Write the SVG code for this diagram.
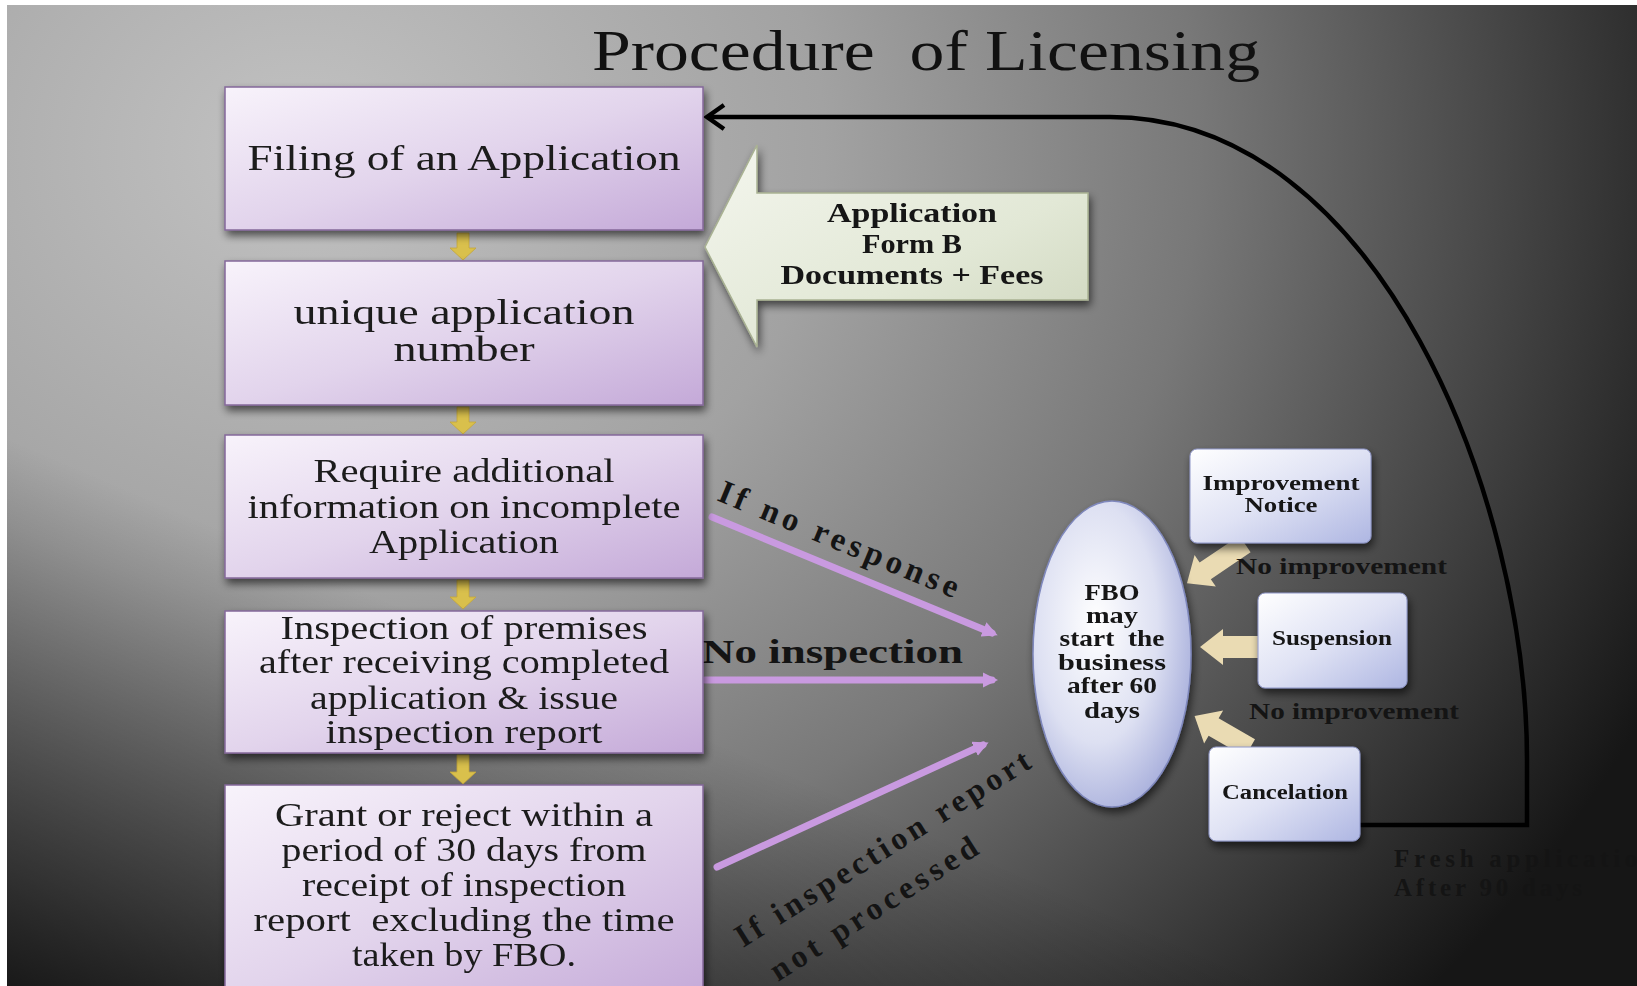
<svg xmlns="http://www.w3.org/2000/svg" width="1637" height="986" viewBox="0 0 1637 986">
<defs>
<radialGradient id="bg" gradientUnits="userSpaceOnUse" cx="300" cy="150" r="1500" gradientTransform="translate(300 150) scale(1 0.85) translate(-300 -150)">
<stop offset="0" stop-color="#c2c2c2"/>
<stop offset="0.35" stop-color="#a2a2a2"/>
<stop offset="0.6" stop-color="#787878"/>
<stop offset="0.75" stop-color="#535353"/>
<stop offset="0.9" stop-color="#2e2e2e"/>
<stop offset="1" stop-color="#161616"/>
</radialGradient>
<linearGradient id="bl" gradientUnits="userSpaceOnUse" x1="0" y1="986" x2="200" y2="520">
<stop offset="0" stop-color="#000" stop-opacity="0.75"/>
<stop offset="1" stop-color="#000" stop-opacity="0"/>
</linearGradient>
<linearGradient id="lav" x1="0" y1="0" x2="1" y2="1">
<stop offset="0" stop-color="#f8f3fb"/>
<stop offset="0.5" stop-color="#e2d4ec"/>
<stop offset="1" stop-color="#c4a9d8"/>
</linearGradient>
<linearGradient id="blu" x1="0" y1="0" x2="1" y2="1">
<stop offset="0" stop-color="#ffffff"/>
<stop offset="0.5" stop-color="#dfe2f4"/>
<stop offset="1" stop-color="#aeb6e2"/>
</linearGradient>
<radialGradient id="ell" cx="0.4" cy="0.4" r="0.65">
<stop offset="0" stop-color="#ffffff"/>
<stop offset="0.6" stop-color="#dde0f2"/>
<stop offset="1" stop-color="#a9b0dc"/>
</radialGradient>
<linearGradient id="grn" x1="0" y1="0" x2="1" y2="1">
<stop offset="0" stop-color="#f4f6ee"/>
<stop offset="0.6" stop-color="#e2e8d6"/>
<stop offset="1" stop-color="#cdd5bc"/>
</linearGradient>
<filter id="sh" x="-15%" y="-15%" width="135%" height="145%">
<feGaussianBlur in="SourceAlpha" stdDeviation="4"/>
<feOffset dx="2" dy="5"/>
<feComponentTransfer><feFuncA type="linear" slope="0.6"/></feComponentTransfer>
<feMerge><feMergeNode/><feMergeNode in="SourceGraphic"/></feMerge>
</filter>
<marker id="pa" viewBox="0 0 10 10" refX="6" refY="5" markerWidth="2.2" markerHeight="2.2" orient="auto" markerUnits="strokeWidth">
<path d="M0,0 L10,5 L0,10 Z" fill="#c99ae0"/>
</marker>
<style>
.bx{fill:url(#lav);stroke:#84689a;stroke-width:1.5}
.sb{fill:url(#blu);stroke:#8e96c8;stroke-width:1}
.t{font-family:"Liberation Serif","Times New Roman",serif;fill:#1a1a1a;text-anchor:middle}
.tb{font-family:"Liberation Serif","Times New Roman",serif;fill:#141414;font-weight:bold}
.gold{fill:#d9c04c;stroke:#c4a63a;stroke-width:0.8}
.cr{fill:#eadbb3}
.pl{stroke:#c99ae0;stroke-width:7;stroke-linecap:round;fill:none}
</style>
</defs>
<rect width="1637" height="986" fill="#ffffff"/>
<rect x="7" y="5" width="1630" height="981" fill="url(#bg)"/>
<rect x="7" y="5" width="1630" height="981" fill="url(#bl)"/>

<text id="title" x="592" y="70" font-family="Liberation Serif, Times New Roman, serif" font-size="56" fill="#111" xml:space="preserve" textLength="668" lengthAdjust="spacingAndGlyphs">Procedure  of Licensing</text>

<g id="connectors">
<path d="M1360,825 L1527,825 L1527,760 C1527,500 1380,117 1110,117 L708,117" fill="none" stroke="#000" stroke-width="4.5"/>
<path d="M724,105 L707,117 L724,129" fill="none" stroke="#000" stroke-width="4.5"/>
<line x1="712" y1="517" x2="992" y2="633" class="pl" marker-end="url(#pa)"/>
<line x1="705" y1="680" x2="992" y2="680" class="pl" marker-end="url(#pa)"/>
<line x1="717" y1="867" x2="983" y2="745" class="pl" marker-end="url(#pa)"/>
<path class="gold" d="M457,233 h12 v15 h7 l-13,12 l-13,-12 h7 z"/>
<path class="gold" d="M457,407 h12 v15 h7 l-13,12 l-13,-12 h7 z"/>
<path class="gold" d="M457,580 h12 v17 h7 l-13,12 l-13,-12 h7 z"/>
<path class="gold" d="M457,755 h12 v17 h7 l-13,12 l-13,-12 h7 z"/>
<g transform="translate(1245,544) rotate(146)"><path class="cr" d="M0,-10 L48,-10 L48,-19 L70,0 L48,19 L48,10 L0,10 Z"/></g>
<path class="cr" d="M1258,636 L1223,636 L1223,629 L1200,647 L1223,665 L1223,658 L1258,658 Z"/>
<g transform="translate(1250,748) rotate(210)"><path class="cr" d="M0,-10 L42,-10 L42,-19 L64,0 L42,19 L42,10 L0,10 Z"/></g>
</g>

<g id="lbl-noresp"><text class="tb" font-size="33" x="716" y="500" textLength="257" transform="rotate(22.5 716 500)">If no response</text></g>
<g id="lbl-noinsp"><text class="tb" font-size="33" x="702" y="663" textLength="261" lengthAdjust="spacingAndGlyphs">No inspection</text></g>
<g id="lbl-notproc">
<text class="tb" font-size="32" x="743" y="948" textLength="342" transform="rotate(-32 743 948)">If inspection report</text>
<text class="tb" font-size="32" x="778" y="982" textLength="240" transform="rotate(-32.5 778 982)">not processed</text>
</g>

<g id="n1" filter="url(#sh)">
<rect class="bx" x="225" y="87" width="478" height="143"/>
<text class="t" x="464" y="170" font-size="36" textLength="433" lengthAdjust="spacingAndGlyphs">Filing of an Application</text>
</g>
<g id="n2" filter="url(#sh)">
<rect class="bx" x="225" y="261" width="478" height="144"/>
<text class="t" x="464" y="324" font-size="36" textLength="341" lengthAdjust="spacingAndGlyphs">unique application</text>
<text class="t" x="464" y="361" font-size="36" textLength="141" lengthAdjust="spacingAndGlyphs">number</text>
</g>
<g id="n3" filter="url(#sh)">
<rect class="bx" x="225" y="435" width="478" height="143"/>
<text class="t" x="464" y="482" font-size="33" textLength="301" lengthAdjust="spacingAndGlyphs">Require additional</text>
<text class="t" x="464" y="518" font-size="33" textLength="433" lengthAdjust="spacingAndGlyphs">information on incomplete</text>
<text class="t" x="464" y="553" font-size="33" textLength="190" lengthAdjust="spacingAndGlyphs">Application</text>
</g>
<g id="n4" filter="url(#sh)">
<rect class="bx" x="225" y="611" width="478" height="142"/>
<text class="t" x="464" y="639" font-size="33" textLength="367" lengthAdjust="spacingAndGlyphs">Inspection of premises</text>
<text class="t" x="464" y="673" font-size="33" textLength="410" lengthAdjust="spacingAndGlyphs">after receiving completed</text>
<text class="t" x="464" y="709" font-size="33" textLength="308" lengthAdjust="spacingAndGlyphs">application &amp; issue</text>
<text class="t" x="464" y="743" font-size="33" textLength="277" lengthAdjust="spacingAndGlyphs">inspection report</text>
</g>
<g id="n5" filter="url(#sh)">
<rect class="bx" x="225" y="785" width="478" height="215"/>
<text class="t" x="464" y="826" font-size="33" textLength="378" lengthAdjust="spacingAndGlyphs">Grant or reject within a</text>
<text class="t" x="464" y="861" font-size="33" textLength="365" lengthAdjust="spacingAndGlyphs">period of 30 days from</text>
<text class="t" x="464" y="896" font-size="33" textLength="324" lengthAdjust="spacingAndGlyphs">receipt of inspection</text>
<text class="t" x="464" y="931" font-size="33" textLength="421" lengthAdjust="spacingAndGlyphs" xml:space="preserve">report  excluding the time</text>
<text class="t" x="464" y="966" font-size="33" textLength="224" lengthAdjust="spacingAndGlyphs">taken by FBO.</text>
</g>

<g id="callout" filter="url(#sh)">
<path d="M705,247 L757,145 L757,193 L1088,193 L1088,300 L757,300 L757,347 Z" fill="url(#grn)" stroke="#a9b292" stroke-width="1.5"/>
<text class="tb" x="912" y="222" font-size="27" text-anchor="middle" textLength="170" lengthAdjust="spacingAndGlyphs">Application</text>
<text class="tb" x="912" y="253" font-size="27" text-anchor="middle" textLength="100" lengthAdjust="spacingAndGlyphs">Form B</text>
<text class="tb" x="912" y="284" font-size="27" text-anchor="middle" textLength="263" lengthAdjust="spacingAndGlyphs">Documents + Fees</text>
</g>

<g id="fbo" filter="url(#sh)">
<ellipse cx="1112" cy="654" rx="79" ry="153" fill="url(#ell)" stroke="#7f88bd" stroke-width="1.5"/>
<g class="tb" font-size="23" text-anchor="middle" lengthAdjust="spacingAndGlyphs">
<text x="1112" y="600" textLength="55" lengthAdjust="spacingAndGlyphs">FBO</text>
<text x="1112" y="623" textLength="52" lengthAdjust="spacingAndGlyphs">may</text>
<text x="1112" y="646" textLength="105" lengthAdjust="spacingAndGlyphs" xml:space="preserve">start  the</text>
<text x="1112" y="670" textLength="108" lengthAdjust="spacingAndGlyphs">business</text>
<text x="1112" y="693" textLength="90" lengthAdjust="spacingAndGlyphs">after 60</text>
<text x="1112" y="718" textLength="56" lengthAdjust="spacingAndGlyphs">days</text>
</g>
</g>

<g id="improvement" filter="url(#sh)">
<rect class="sb" x="1190" y="449" width="181" height="94" rx="7"/>
<text class="tb" x="1281" y="490" font-size="21" text-anchor="middle" textLength="157" lengthAdjust="spacingAndGlyphs">Improvement</text>
<text class="tb" x="1281" y="512" font-size="21" text-anchor="middle" textLength="73" lengthAdjust="spacingAndGlyphs">Notice</text>
</g>
<g id="suspension" filter="url(#sh)">
<rect class="sb" x="1258" y="593" width="149" height="95" rx="7"/>
<text class="tb" x="1332" y="645" font-size="20" text-anchor="middle" textLength="120" lengthAdjust="spacingAndGlyphs">Suspension</text>
</g>
<g id="cancelation" filter="url(#sh)">
<rect class="sb" x="1209" y="747" width="151" height="94" rx="7"/>
<text class="tb" x="1285" y="799" font-size="20" text-anchor="middle" textLength="126" lengthAdjust="spacingAndGlyphs">Cancelation</text>
</g>

<g id="labels-right">
<text class="tb" x="1236" y="574" font-size="23" textLength="211" lengthAdjust="spacingAndGlyphs">No improvement</text>
<text class="tb" x="1249" y="719" font-size="23" textLength="210" lengthAdjust="spacingAndGlyphs">No improvement</text>
<text class="tb" x="1394" y="867" font-size="25" fill="#0d0d0d" textLength="262">Fresh application</text>
<text class="tb" x="1394" y="896" font-size="25" fill="#0d0d0d" textLength="188">After 90 days</text>
</g>
</svg>
